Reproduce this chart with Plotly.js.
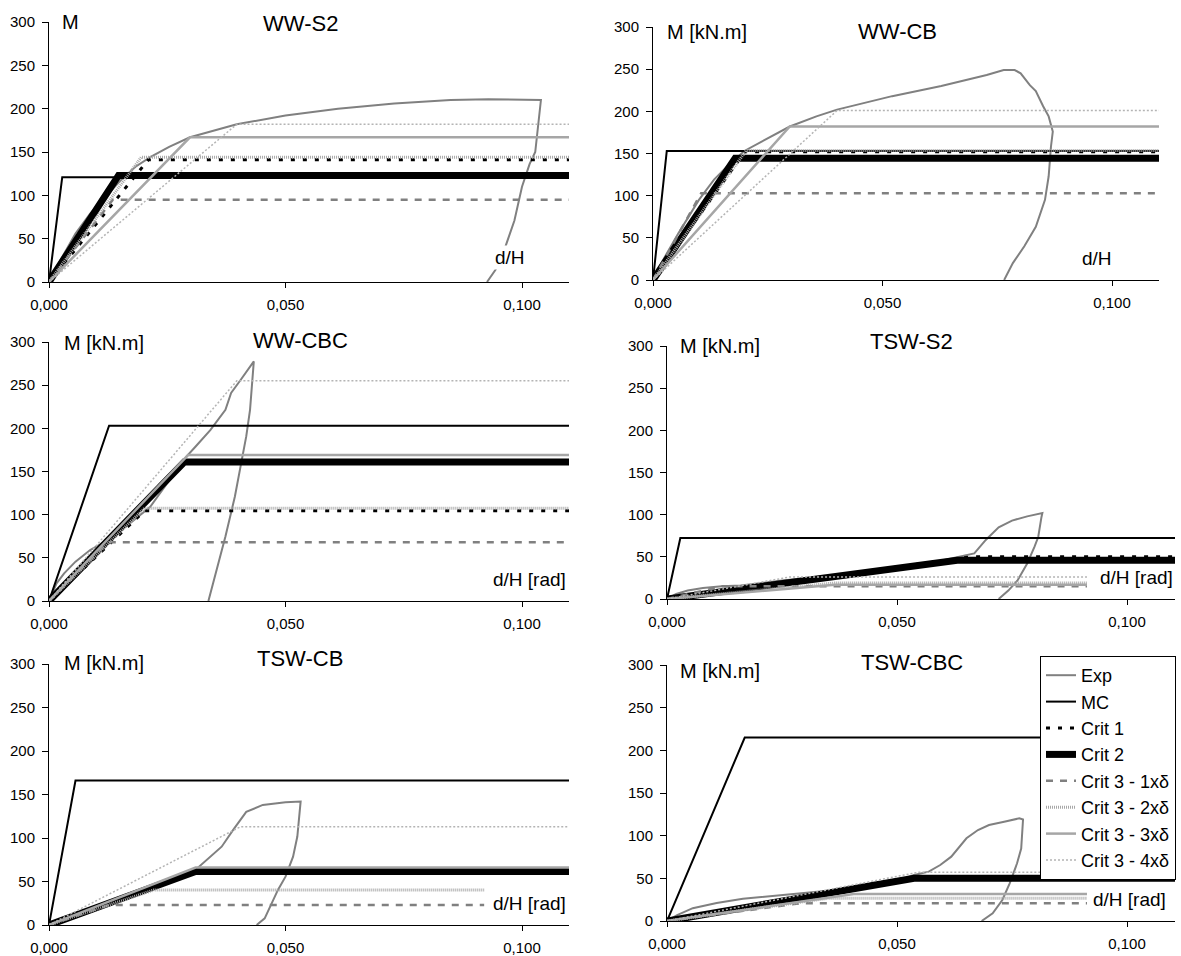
<!DOCTYPE html>
<html>
<head>
<meta charset="utf-8">
<script src="https://cdn.plot.ly/plotly-3.0.1.min.js"></script>
<style>html,body{margin:0;padding:0;background:#fff;}#chart{width:1181px;height:956px;}</style>
</head>
<body>
<div id="chart"></div>
<script>
// ---------- DATA ----------
const seriesNames = ['Exp', 'MC', 'Crit 1', 'Crit 2', 'Crit 3 - 1xδ', 'Crit 3 - 2xδ', 'Crit 3 - 3xδ', 'Crit 3 - 4xδ'];
const panelTitles = ['WW-S2', 'WW-CB', 'WW-CBC', 'TSW-S2', 'TSW-CB', 'TSW-CBC'];
const yLabels = ['M', 'M [kN.m]', 'M [kN.m]', 'M [kN.m]', 'M [kN.m]', 'M [kN.m]'];
const xLabels = ['d/H', 'd/H', 'd/H [rad]', 'd/H [rad]', 'd/H [rad]', 'd/H [rad]'];
const xTickVals = [0, 0.05, 0.1];
const yTickVals = [0, 50, 100, 150, 200, 250, 300];

// Bilinear series order: MC, Crit 1, Crit 2, Crit 3 - 1xδ, 2xδ, 3xδ, 4xδ
// WW-S2
const WWS2_expX = [0, 0.0024, 0.0056, 0.0087, 0.0119, 0.0151, 0.0183, 0.0214, 0.0254, 0.0298, 0.0397, 0.05, 0.0611, 0.073, 0.0849, 0.0929, 0.104, 0.1028, 0.1016, 0.1, 0.0984, 0.096, 0.0944, 0.0926];
const WWS2_expM = [0, 25, 56, 79, 98, 117, 133, 144, 156, 167, 182, 192, 200, 206, 210, 211, 210, 150, 136, 110, 71, 33, 14, 0];
const WWS2_kneeX = [0.0028, 0.021, 0.0147, 0.0135, 0.0195, 0.0298, 0.0397];
const WWS2_kneeM = [121, 141, 123, 95, 144, 167, 182];
const WWS2_endX = [0.111, 0.111, 0.111, 0.111, 0.111, 0.111, 0.111];
// WW-CB
const WWCB_expX = [0, 0.0018, 0.0055, 0.01, 0.0133, 0.0162, 0.0199, 0.0249, 0.0298, 0.0356, 0.0401, 0.0521, 0.0628, 0.0727, 0.0764, 0.0788, 0.0801, 0.0821, 0.0834, 0.085, 0.0862, 0.0871, 0.0867, 0.0862, 0.0854, 0.0834, 0.0809, 0.0784, 0.0768, 0.0765];
const WWCB_expM = [0, 20, 55, 95, 119, 135, 153, 168, 182, 194, 202, 218, 230, 243, 249, 249, 245, 231, 224, 206, 194, 176, 158, 123, 95, 63, 40, 20, 3, 0];
const WWCB_kneeX = [0.003, 0.02, 0.0179, 0.0105, 0.0203, 0.0298, 0.0401];
const WWCB_kneeM = [153, 152, 144.5, 103, 153.5, 182, 201];
const WWCB_endX = [0.111, 0.111, 0.111, 0.111, 0.111, 0.111, 0.111];
// WW-CBC
const WWCBC_expX = [0, 0.0016, 0.0032, 0.0056, 0.0087, 0.0135, 0.0214, 0.029, 0.031, 0.0341, 0.0373, 0.0385, 0.0405, 0.0433, 0.0425, 0.0417, 0.0405, 0.0393, 0.0373, 0.0353, 0.0337];
const WWCBC_expM = [0, 20.5, 32, 45.6, 59, 74, 109, 167, 179, 198, 221.5, 241, 256, 277.6, 221.5, 190.6, 156, 121, 74.6, 32, 0];
const WWCBC_kneeX = [0.0127, 0.0202, 0.0286, 0.0125, 0.0202, 0.0294, 0.0397];
const WWCBC_kneeM = [203, 104.4, 161, 68, 107.5, 169, 255];
const WWCBC_endX = [0.111, 0.111, 0.111, 0.111, 0.111, 0.111, 0.111];
// TSW-S2
const TSWS2_expX = [0, 0.002, 0.0045, 0.0078, 0.0119, 0.016, 0.025, 0.04, 0.055, 0.0668, 0.0693, 0.0721, 0.075, 0.0783, 0.0816, 0.0814, 0.0807, 0.0799, 0.0783, 0.0762, 0.0742, 0.0721];
const TSWS2_expM = [0, 6, 10, 13, 15, 16, 22, 30, 40, 54, 70, 85, 93, 98, 102, 97, 73.5, 62, 42, 22, 10, 0];
const TSWS2_kneeX = [0.0029, 0.066, 0.0631, 0.012, 0.0365, 0.0365, 0.0266];
const TSWS2_kneeM = [72.3, 50, 46, 15, 19, 17, 26];
const TSWS2_endX = [0.111, 0.111, 0.111, 0.0913, 0.0913, 0.0913, 0.0913];
// TSW-CB
const TSWCB_expX = [0, 0.005, 0.012, 0.02, 0.027, 0.0313, 0.0341, 0.0365, 0.0389, 0.0417, 0.0452, 0.05, 0.0532, 0.0528, 0.0525, 0.0516, 0.05, 0.0484, 0.0468, 0.0456, 0.0439];
const TSWCB_expM = [0, 12, 26, 40, 53, 65, 78.6, 90, 109, 130, 138, 141, 142, 117, 101.7, 78.6, 55.6, 40.3, 21, 7.7, 0];
const TSWCB_kneeX = [0.0056, 0.031, 0.031, 0.0127, 0.0222, 0.031, 0.0405];
const TSWCB_kneeM = [166, 62, 61.4, 23, 40.3, 66, 113];
const TSWCB_endX = [0.111, 0.111, 0.111, 0.092, 0.092, 0.111, 0.111];
// TSW-CBC
const TSWCBC_expX = [0, 0.0022, 0.0056, 0.0108, 0.0165, 0.0252, 0.04, 0.05, 0.0537, 0.0569, 0.0594, 0.0618, 0.0651, 0.0676, 0.07, 0.0733, 0.0766, 0.0774, 0.077, 0.0761, 0.0745, 0.0729, 0.0708, 0.0684];
const TSWCBC_expM = [0, 7, 15, 21, 26, 30.5, 38, 47, 54, 57.8, 65.6, 75.4, 96.9, 106.6, 112.5, 116.4, 120.3, 119, 85, 67.6, 44, 24.6, 9, 0];
const TSWCBC_kneeX = [0.0169, 0.0537, 0.0537, 0.0288, 0.035, 0.0406, 0.0545];
const TSWCBC_kneeM = [215, 50, 50, 20.7, 26.6, 31.6, 57];
const TSWCBC_endX = [0.111, 0.111, 0.111, 0.0913, 0.0913, 0.0913, 0.111];

const panelData = [
  [WWS2_expX, WWS2_expM, WWS2_kneeX, WWS2_kneeM, WWS2_endX],
  [WWCB_expX, WWCB_expM, WWCB_kneeX, WWCB_kneeM, WWCB_endX],
  [WWCBC_expX, WWCBC_expM, WWCBC_kneeX, WWCBC_kneeM, WWCBC_endX],
  [TSWS2_expX, TSWS2_expM, TSWS2_kneeX, TSWS2_kneeM, TSWS2_endX],
  [TSWCB_expX, TSWCB_expM, TSWCB_kneeX, TSWCB_kneeM, TSWCB_endX],
  [TSWCBC_expX, TSWCBC_expM, TSWCBC_kneeX, TSWCBC_kneeM, TSWCBC_endX]
];

// ---------- STYLE / LAYOUT ----------
const W = 1181, H = 956;
const FONT = 'Liberation Sans, Arial, sans-serif';
const fx = p => p / W;
const fy = p => 1 - p / H;

const seriesStyles = [
  {color: '#808080', width: 2, dash: 'solid'},
  {color: '#000000', width: 2, dash: 'solid'},
  {color: '#000000', width: 3, dash: '4px,8px'},
  {color: '#000000', width: 7, dash: 'solid'},
  {color: '#808080', width: 2.5, dash: '7px,7px'},
  {color: '#a8a8a8', width: 3, dash: '1px,1px'},
  {color: '#a6a6a6', width: 2.5, dash: 'solid'},
  {color: '#b4b4b4', width: 1.5, dash: '2px,2px'}
];

// pixel geometry: x0 (y-axis), x1 (end), t (0.1 tick), yt (300), yb (0)
const geom = [
  {x0: 49, x1: 569, t: 522, yt: 22, yb: 282},
  {x0: 653, x1: 1159, t: 1112, yt: 27, yb: 280},
  {x0: 49, x1: 569, t: 522, yt: 342, yb: 601},
  {x0: 667, x1: 1175, t: 1127, yt: 346, yb: 599},
  {x0: 49, x1: 569, t: 522, yt: 664, yb: 925},
  {x0: 667, x1: 1175, t: 1127, yt: 665, yb: 921}
];
const titlePos = [[300, 24], [897, 32], [300, 340], [911, 342], [300, 658], [912, 662]];
const yLabPos = [[60, 22], [665, 32], [62, 343], [678, 346], [62, 663], [678, 671]];
const xLabPos = [[493, 257], [1080, 258], [491, 579], [1098, 577], [491, 903], [1091, 899]];

const traces = [];
const layout = {
  width: W, height: H,
  margin: {l: 0, r: 0, t: 0, b: 0, pad: 0},
  paper_bgcolor: '#ffffff', plot_bgcolor: 'rgba(0,0,0,0)',
  separators: ', ',
  font: {family: FONT, color: '#000000', size: 15},
  showlegend: true,
  legend: {
    x: fx(1040), y: fy(656), xanchor: 'left', yanchor: 'top',
    bgcolor: '#ffffff', bordercolor: '#000000', borderwidth: 1,
    font: {family: FONT, size: 18, color: '#000000'},
    tracegroupgap: 0
  },
  annotations: []
};

panelData.forEach((pd, i) => {
  const n = i + 1;
  const xa = 'x' + (n === 1 ? '' : n), ya = 'y' + (n === 1 ? '' : n);
  const [expX, expM, kneeX, kneeM, endX] = pd;
  seriesNames.forEach((name, j) => {
    let xs, ys;
    if (j === 0) { xs = expX; ys = expM; }
    else { xs = [0, kneeX[j - 1], endX[j - 1]]; ys = [0, kneeM[j - 1], kneeM[j - 1]]; }
    const st = seriesStyles[j];
    traces.push({
      type: 'scatter', mode: 'lines', x: xs, y: ys, name: name,
      xaxis: xa, yaxis: ya,
      showlegend: i === 5, legendgroup: name,
      line: {color: st.color, width: st.width, dash: st.dash, shape: 'linear'},
      hoverinfo: 'skip'
    });
  });
  const g = geom[i];
  const xmax = 0.1 * (g.x1 - g.x0) / (g.t - g.x0);
  const axKeyX = 'xaxis' + (n === 1 ? '' : n), axKeyY = 'yaxis' + (n === 1 ? '' : n);
  layout[axKeyX] = {
    domain: [fx(g.x0), fx(g.x1)], range: [0, xmax], anchor: ya,
    tickvals: xTickVals, tickformat: '.3f',
    ticks: 'outside', ticklen: 5, tickwidth: 1, tickcolor: '#000000',
    showline: true, linecolor: '#000000', linewidth: 1,
    showgrid: false, zeroline: false, fixedrange: true,
    tickfont: {family: FONT, size: 15, color: '#000000'},
    ticklabelstandoff: 4
  };
  layout[axKeyY] = {
    domain: [fy(g.yb), fy(g.yt)], range: [0, 300], anchor: xa,
    tickvals: yTickVals,
    ticks: 'outside', ticklen: 6, tickwidth: 1, tickcolor: '#000000',
    showline: true, linecolor: '#000000', linewidth: 1,
    showgrid: false, zeroline: false, fixedrange: true,
    tickfont: {family: FONT, size: 15, color: '#000000'},
    ticklabelstandoff: 4
  };
  layout.annotations.push({
    xref: 'paper', yref: 'paper', x: fx(titlePos[i][0]), y: fy(titlePos[i][1]),
    xanchor: 'center', yanchor: 'middle', showarrow: false,
    text: panelTitles[i], font: {family: FONT, size: 22, color: '#000000'}
  });
  layout.annotations.push({
    xref: 'paper', yref: 'paper', x: fx(yLabPos[i][0]), y: fy(yLabPos[i][1]),
    xanchor: 'left', yanchor: 'middle', showarrow: false,
    text: yLabels[i], font: {family: FONT, size: 20, color: '#000000'}
  });
  layout.annotations.push({
    xref: 'paper', yref: 'paper', x: fx(xLabPos[i][0]), y: fy(xLabPos[i][1]),
    xanchor: 'left', yanchor: 'middle', showarrow: false, bgcolor: '#ffffff',
    text: xLabels[i], font: {family: FONT, size: 19, color: '#000000'}
  });
});

Plotly.newPlot('chart', traces, layout, {staticPlot: true, displayModeBar: false});
</script>
</body>
</html>
